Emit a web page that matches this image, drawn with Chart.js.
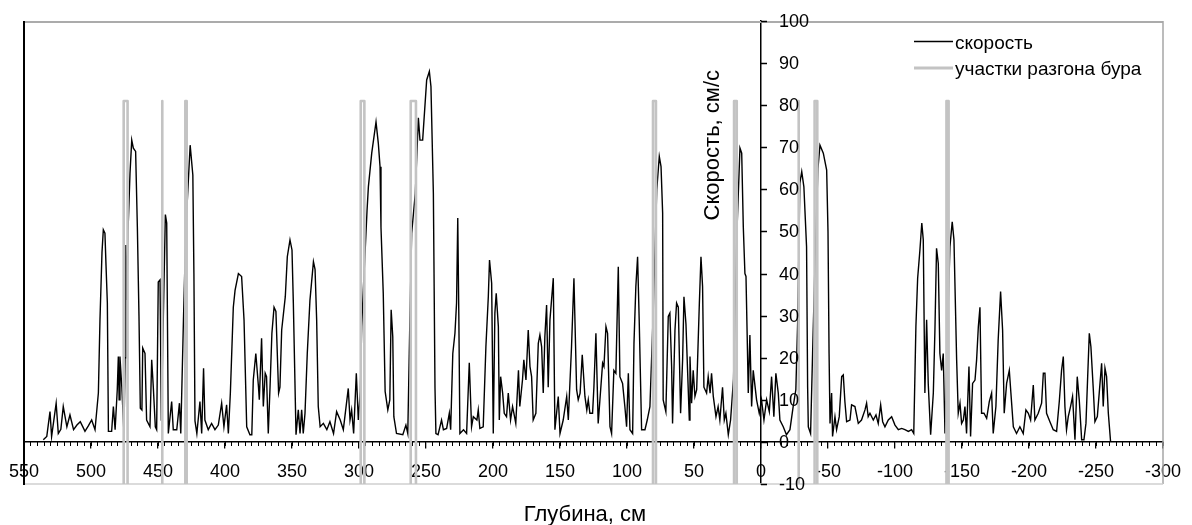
<!DOCTYPE html>
<html><head><meta charset="utf-8">
<script src="https://cdn.jsdelivr.net/npm/chart.js@4.4.1/dist/chart.umd.min.js"></script>
<style>html,body{margin:0;padding:0;background:#fff}canvas{display:block}</style>
</head><body>
<canvas id="c" width="1192" height="525"></canvas>
<script>
// [depth, cm ; speed, cm/s]
const speedProfile = [[535.6,0.5],[533,1.3],[530.6,7.2],[529.4,1.3],[526,9.2],[524.4,2],[522.5,3],[520.7,8.4],[518,3.6],[515.7,6.4],[513,2.9],[510.5,4],[508,4.8],[506,3.5],[504.5,2.5],[502,3.8],[499.5,5.2],[497,2.9],[494.5,11.6],[493.3,29],[491.8,45],[490.8,50.4],[489.6,49.6],[488.8,42],[487.8,33],[487,2.5],[484.6,2.5],[483.3,8.4],[482,2.9],[480.4,12.4],[479.6,20.3],[479,10],[478.4,20.3],[477,13],[475.4,2],[474.6,20],[473.9,46.8],[473.2,33.7],[472.4,50],[470.9,63.8],[469.6,71.7],[468.4,69.8],[466.7,69],[465.4,51],[464.2,30],[463.2,8],[462,7.6],[461.4,22.3],[459.7,21],[458.5,5.2],[456,3.6],[454.7,19.5],[453.5,13],[452,3.6],[451,2.9],[449.8,38],[448.5,38.5],[447.5,5],[446,30],[444.5,54],[443.5,52],[442.3,2],[439.8,9.6],[438.6,2.9],[436,2.9],[434,9.2],[433,2],[431,29],[430,41],[428.5,55],[426,70.5],[424,63.4],[423.2,40],[422.4,5],[421,2],[418.7,9.6],[417.4,2],[416,17.5],[415,5.2],[412.5,2.9],[410,4.4],[407.5,2.9],[405,4],[402.5,9.2],[400.8,3.6],[398.8,8.8],[397.5,2],[396,11.6],[393.8,32],[392.5,36],[390,40],[387.6,39.3],[385.8,29],[383.8,3.6],[381.4,1.7],[380,1.7],[378.9,14.7],[377,21],[375,13],[374.4,10],[372.7,24.6],[371.4,8.4],[370,16.3],[369,15.5],[367.7,2],[366.4,13],[365,25.8],[363.4,32],[362,31],[360,11.6],[359,13],[357.7,26.6],[355,34.5],[353.5,44],[351.5,48],[350,45.6],[349,33],[347,1.7],[345.3,7.6],[344,2],[342.8,7.6],[341.6,2],[340.3,6.8],[338.6,21],[336.6,33.7],[334,42.8],[332.8,41],[331.6,29],[330.4,8.4],[329,3.6],[326.6,4.4],[324,2.9],[321.7,4.8],[319,2],[316.7,7.2],[314,5.2],[311.7,2.9],[308,12.7],[306.7,5.2],[305.5,7.6],[304,2],[302,16.3],[300.5,5.2],[299,12],[298,27.4],[296.8,36],[294,55],[293,60.6],[290.5,68.6],[287.3,76],[285.6,71],[284.3,65.4],[283.6,51],[281.9,35.3],[280.5,12],[278.5,7.6],[277,10],[276,31.4],[274.8,25],[274,6],[272,2],[267.3,1.7],[265,4],[263.6,2],[262.2,26],[260.7,49.6],[258,59],[255.7,77],[254.5,71.7],[252.5,71.7],[249.5,86],[247.5,88],[246.3,84.4],[244.5,59],[243.3,13],[242.6,2],[241,1.7],[238.4,5.2],[237,2.9],[234.6,3.2],[232.6,6.8],[231.6,2.9],[230,21],[228.4,25.8],[227.2,33],[226.3,53.2],[225.5,30],[224.7,2],[222,2.9],[219.7,2],[217.7,18.8],[216,3.6],[214.7,6],[212,5.2],[211,7.6],[209.8,3.2],[207.3,3.6],[205.3,22.6],[203.5,34.5],[202.6,43.2],[201,37.7],[199.8,2],[198.6,30.6],[197.6,35.3],[196,27.4],[195.3,5.2],[194.3,15.5],[192.8,11.6],[191.6,6.8],[189.9,6],[188.6,11.6],[186.9,5.2],[185.4,8.4],[184.4,6.8],[183,4.4],[181,17],[180,8.4],[178,14.7],[177,19.5],[175.4,14.7],[173.7,26.6],[172.4,17.9],[171.2,15.5],[170,5.2],[168,6.8],[166.2,23.4],[165,25.4],[163.7,22.6],[162.5,11.6],[161.3,25],[160,32.5],[158.8,13],[157.5,29],[155,38.9],[153.8,2.9],[151.3,10.8],[150,2],[147.6,5.2],[145,10.8],[143.8,5.2],[141.4,22.6],[139.6,38.9],[137.6,12.4],[136.4,10],[135,11.6],[133.4,20.7],[131.4,10.8],[130,7.6],[128.9,10],[127.7,6.8],[125.7,6.8],[124.7,13],[123.2,25.8],[121.5,4.4],[120.2,10],[118.2,18.7],[117.2,17.9],[115.7,27.4],[114.5,25.8],[112.7,3.6],[111.5,2],[109.8,17],[108.3,16.3],[106.5,41.6],[105.3,15.5],[103.3,13.9],[101.6,8.4],[100.3,3.6],[99,16.3],[97.8,2.9],[95.8,2],[94.8,23.4],[93.4,36.9],[92.1,44],[90.9,29],[89.1,2.9],[86.6,2.9],[84.9,5.2],[82.9,8.4],[80.5,30],[77.8,59.9],[75.9,67.8],[74.6,65.4],[73.4,54.4],[73,10],[71,7.2],[69.2,29.8],[68,30.6],[66.7,17.9],[66,4.4],[64.2,26.6],[63,33],[61.7,32],[60,6.8],[58.5,19.5],[57.5,34.5],[56,28],[54.8,17],[53.5,5.2],[53,20.3],[51.8,9.2],[50.6,17],[49.3,10.8],[48,12.4],[46,33],[44.8,44],[43.6,36.9],[42.6,13],[40.6,11.6],[39.4,15.5],[38,11.6],[36.9,16.3],[35.6,10.8],[33.6,6],[32,8.4],[30.7,5.2],[28.7,13],[27.4,5.2],[26.2,6.8],[24.4,1.7],[22.7,5.2],[20.5,15],[18,49.6],[15.7,69.8],[14.4,68.6],[13.2,51],[12,40],[11.2,39.3],[10.3,25],[9.5,11.6],[8.3,25.4],[7,8.4],[5.8,17],[3.3,10],[1.3,6.8],[-0.4,10],[-2.2,5.2],[-4.2,10],[-6.2,7.2],[-7.9,15.5],[-9.6,6],[-11.1,16.3],[-12.9,11.6],[-14.1,5.2],[-16.6,3.6],[-19,1.7],[-21.6,2.9],[-24,8.4],[-26,12.4],[-27.5,30],[-29,61.5],[-30.4,64.2],[-32,60.6],[-34,46.4],[-34.8,13],[-35.3,3.6],[-37,2],[-38.5,21],[-40.5,45],[-42.5,65],[-44,70.5],[-46.5,68.6],[-49,64.6],[-50,50],[-50.8,21],[-51.5,4.4],[-52.7,11.6],[-53.4,1.3],[-55.2,6],[-56.4,2.9],[-58.4,6],[-60.2,15.5],[-61.4,15.9],[-62.6,9.6],[-63.9,4.8],[-66.4,5.2],[-67.6,8.8],[-70.1,8.4],[-72.6,4.4],[-75,5.2],[-77.6,7.6],[-78.8,9.2],[-80,6],[-81.3,6.8],[-83.8,5.2],[-85.8,6.4],[-87.5,4.4],[-89.3,8.8],[-90.8,4.8],[-92.5,3.6],[-95,5.2],[-97.5,6],[-100,4],[-102.5,2.9],[-105,3.2],[-107.4,2.9],[-110,2.5],[-112.4,2.9],[-114,2],[-115.6,27.4],[-116.9,38.9],[-118.6,45.6],[-120,52],[-121.1,48],[-122.3,11.6],[-123.6,29],[-124.8,13.9],[-126.6,1.7],[-128.6,11.6],[-129.8,26.6],[-131,46],[-132.3,42.4],[-133.5,21],[-134.8,17],[-136,21],[-137.3,2],[-139.5,30],[-141,46.4],[-142.7,52.3],[-144,48],[-146,19.5],[-147.2,6.8],[-148.5,9.2],[-149.7,4.4],[-151,5.2],[-152.2,8.4],[-153.4,2],[-155.2,17.9],[-156.4,1.3],[-157.9,13.9],[-159.7,14.7],[-160.9,19.5],[-162.2,27.4],[-163.4,32],[-164.6,6.8],[-166.4,6.8],[-168.4,5.6],[-170.4,9.6],[-172.1,11.6],[-173.3,2],[-175.3,8.4],[-177,24.2],[-178.8,35.7],[-180.3,26.6],[-181.5,6.8],[-183.3,13.9],[-185.3,17],[-186.5,11.6],[-188.3,3.6],[-190.7,2],[-193.2,3.6],[-195.7,2],[-197.7,7.6],[-199.5,6.8],[-201.2,5.2],[-203.2,13.5],[-204.4,5.2],[-206.9,6.8],[-209.4,9.2],[-210.7,16.3],[-211.9,16.3],[-213.1,6.8],[-215.6,4.8],[-218.1,2.9],[-220.6,2.5],[-222.6,9.6],[-224.3,17],[-225.6,20.3],[-226.8,8.4],[-228,2.9],[-229.3,6],[-231,8.4],[-232.5,10.8],[-234.3,0.5],[-236,15.5],[-237.5,10],[-239.3,0.5],[-241,0.5],[-242.5,4.4],[-243.7,14.7],[-245,25.8],[-246.2,22.6],[-248,12.4],[-249.2,4.8],[-251,6],[-252.4,11.6],[-254.2,18.7],[-255.4,8.4],[-256.7,17.5],[-257.9,15.5],[-259.2,6.8],[-260.9,0]];

// drill acceleration zones (depth from / to, cm)
const accelFrom = [475.6, 446.8, 429.6, 298.7, 261.4, 80.6, 20.1, -27.8, -40, -138.4];
const accelTo   = [472.7, 446.8, 428.6, 296.0, 257.5, 78.4, 18.1, -28.3, -42, -140.0];
const accelLow = -10, accelHigh = 81;

const xTickLabels = [550,500,450,400,350,300,250,200,150,100,50,0,-50,-100,-150,-200,-250,-300];
const yTickLabels = [100,90,80,70,60,50,40,30,20,10,0,-10];
const seriesNames = ['скорость', 'участки разгона бура'];
const xTitle = 'Глубина, см';
const yTitle = 'Скорость, см/с';

const FONT = "'Liberation Sans', Arial, sans-serif";

const speedData = speedProfile.map(p => ({x: p[0], y: p[1]}));
const accelData = [];
accelFrom.forEach((a, i) => {
  const b = accelTo[i];
  accelData.push({x: a, y: accelLow}, {x: a, y: accelHigh}, {x: b, y: accelHigh}, {x: b, y: accelLow}, {x: b, y: null});
});

const noPadX = s => { s.height = 0; s.paddingLeft = 0; s.paddingRight = 0; };

const deco = {
  id: 'deco',
  beforeDatasetsDraw(chart) {
    const {ctx, chartArea: a} = chart;
    ctx.save();
    ctx.lineCap = 'butt';
    ctx.strokeStyle = '#ababab'; ctx.lineWidth = 2;
    ctx.beginPath(); ctx.moveTo(a.left, a.top + 1); ctx.lineTo(a.right, a.top + 1); ctx.stroke();
    ctx.strokeStyle = '#a6a6a6'; ctx.lineWidth = 1.5;
    ctx.beginPath(); ctx.moveTo(a.right, a.top); ctx.lineTo(a.right, a.bottom); ctx.stroke();
    ctx.strokeStyle = '#cfcfcf'; ctx.lineWidth = 1.5;
    ctx.beginPath(); ctx.moveTo(a.left, a.bottom); ctx.lineTo(a.right, a.bottom); ctx.stroke();
    ctx.strokeStyle = '#000'; ctx.lineWidth = 2;
    ctx.beginPath(); ctx.moveTo(a.left, a.top); ctx.lineTo(a.left, a.bottom + 1); ctx.stroke();
    ctx.restore();
  },
  afterDraw(chart) {
    const {ctx} = chart;
    const xs = chart.scales.x, ys = chart.scales.y;
    const x0 = xs.getPixelForValue(0);
    ctx.save();
    // y ticks + labels (right of the axis)
    ctx.strokeStyle = '#000'; ctx.lineWidth = 1.5;
    ctx.fillStyle = '#000';
    ctx.font = '18px ' + FONT;
    ctx.textAlign = 'left'; ctx.textBaseline = 'middle';
    yTickLabels.forEach(v => {
      const py = Math.round(ys.getPixelForValue(v)) + 0.5;
      ctx.beginPath(); ctx.moveTo(x0, py); ctx.lineTo(x0 + 6, py); ctx.stroke();
      ctx.fillText(String(v), x0 + 18, py + 1);
    });
    // y title
    ctx.save();
    ctx.translate(x0 - 42, ys.getPixelForValue(70.5));
    ctx.rotate(-Math.PI / 2);
    ctx.font = '22px ' + FONT;
    ctx.textAlign = 'center'; ctx.textBaseline = 'alphabetic';
    ctx.fillText(yTitle, 0, 0);
    ctx.restore();
    // x title
    ctx.font = '22px ' + FONT;
    ctx.textAlign = 'center'; ctx.textBaseline = 'alphabetic';
    ctx.fillText(xTitle, 585, 521);
    // legend
    ctx.font = '19px ' + FONT;
    ctx.textAlign = 'left'; ctx.textBaseline = 'alphabetic';
    ctx.strokeStyle = '#000'; ctx.lineWidth = 1.3;
    ctx.beginPath(); ctx.moveTo(914, 41.5); ctx.lineTo(953, 41.5); ctx.stroke();
    ctx.fillText(seriesNames[0], 955, 49);
    ctx.strokeStyle = '#c3c3c3'; ctx.lineWidth = 3;
    ctx.beginPath(); ctx.moveTo(914, 68); ctx.lineTo(953, 68); ctx.stroke();
    ctx.fillText(seriesNames[1], 955, 75);
    ctx.restore();
  }
};

new Chart(document.getElementById('c'), {
  type: 'line',
  data: {
    datasets: [
      { label: seriesNames[1], data: accelData, borderColor: '#c3c3c3', borderWidth: 2.6,
        pointRadius: 0, spanGaps: false, borderJoinStyle: 'round', tension: 0, order: 0 },
      { label: seriesNames[0], data: speedData, borderColor: '#000', borderWidth: 1.4,
        pointRadius: 0, tension: 0, order: 1 }
    ]
  },
  options: {
    responsive: false, animation: false, devicePixelRatio: 1, events: [],
    layout: { padding: { left: 24, top: 21, right: 29, bottom: 41 } },
    plugins: { legend: { display: false }, tooltip: { enabled: false }, title: { display: false } },
    scales: {
      x: {
        type: 'linear', min: -300, max: 550, reverse: true, position: { y: 0 },
        afterBuildTicks: s => { s.ticks = xTickLabels.map(v => ({ value: v })); },
        afterFit: noPadX,
        ticks: { autoSkip: false, maxRotation: 0, padding: 13, color: '#000',
          font: { family: FONT, size: 18 }, callback: v => String(v) },
        grid: { drawOnChartArea: false, drawTicks: true, tickLength: 6, color: '#000', lineWidth: 1.3 },
        border: { display: true, color: '#000', width: 1.5 }
      },
      x2: {
        type: 'linear', axis: 'x', min: -300, max: 550, reverse: true, position: { y: 0 },
        afterFit: noPadX,
        ticks: { display: false, stepSize: 5, autoSkip: false },
        grid: { drawOnChartArea: false, drawTicks: true, tickLength: 4, color: '#000', lineWidth: 1 },
        border: { display: false }
      },
      y: {
        type: 'linear', min: -10, max: 100, position: { x: 0 },
        afterFit: s => { s.width = 0; s.paddingTop = 0; s.paddingBottom = 0; },
        ticks: { display: false, stepSize: 10 },
        grid: { display: false },
        border: { display: true, color: '#000', width: 1.5 }
      }
    }
  },
  plugins: [deco]
});
</script>
</body></html>
